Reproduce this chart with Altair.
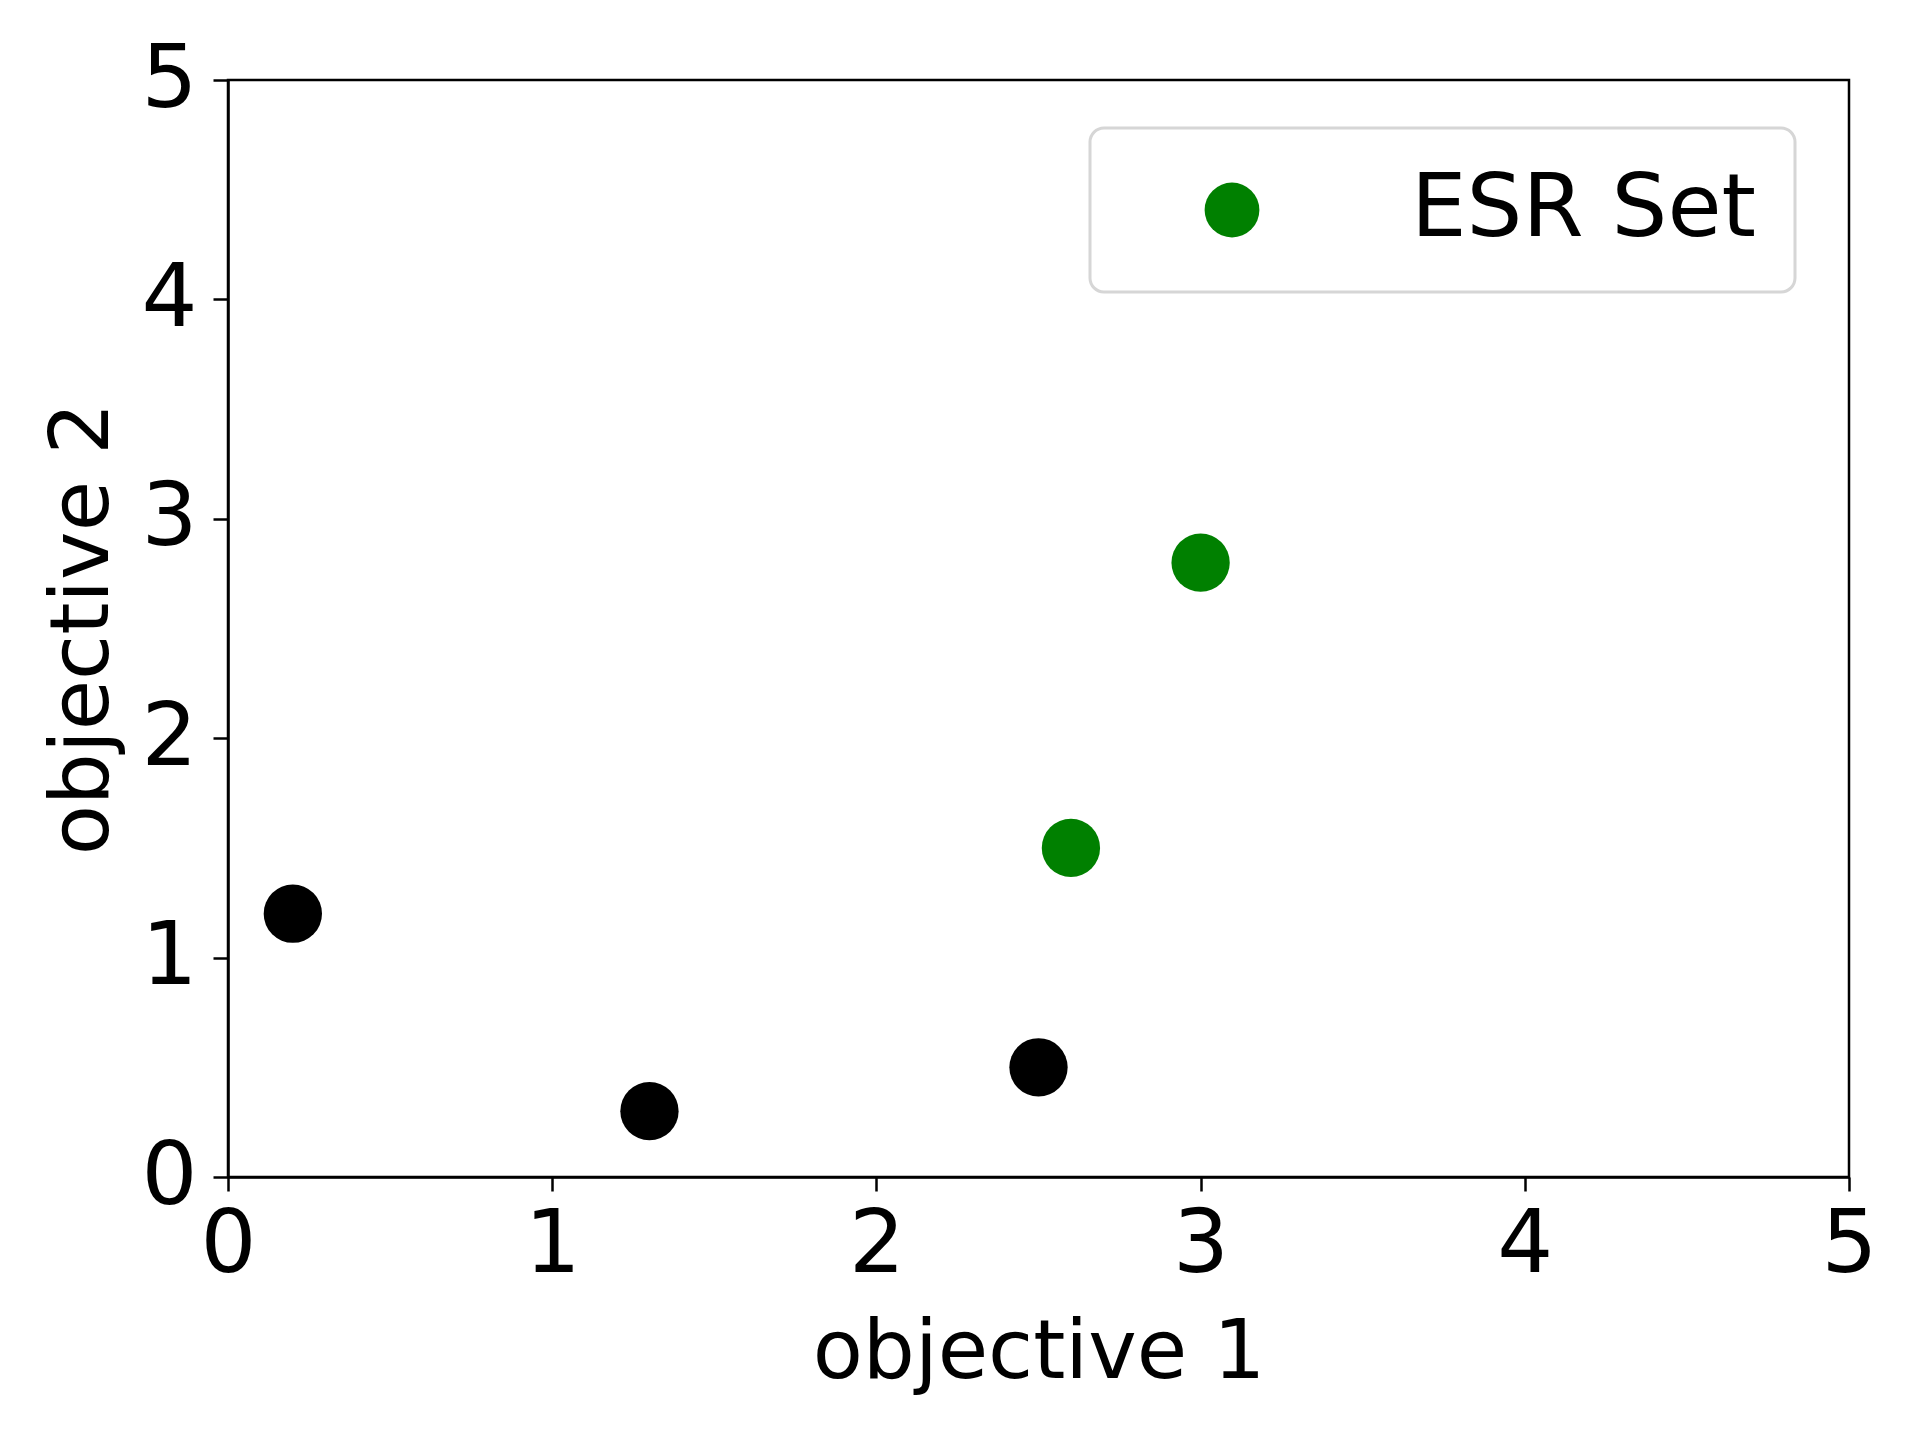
import altair as alt
import pandas as pd

# data
other_x = [0.2, 1.3, 2.5]
other_y = [1.2, 0.3, 0.5]
esr_x = [2.6, 3.0]
esr_y = [1.5, 2.8]
esr_label = "ESR Set"
tick_values = [0, 1, 2, 3, 4, 5]

df_other = pd.DataFrame({"x": other_x, "y": other_y})
df_esr = pd.DataFrame({"x": esr_x, "y": esr_y, "set": [esr_label] * len(esr_x)})

FONT = "DejaVu Sans"

x_axis = alt.Axis(values=tick_values, title="objective 1", grid=False,
                  labelFontSize=88, titleFontSize=82, tickSize=14, labelPadding=10,
                  titlePadding=23, labelFlush=False, format="d")
y_axis = alt.Axis(values=tick_values, title="objective 2", grid=False,
                  labelFontSize=88, titleFontSize=82, tickSize=15, labelPadding=16,
                  titlePadding=17, labelFlush=False, format="d")

x_enc = alt.X("x:Q", scale=alt.Scale(domain=[0, 5], nice=False), axis=x_axis)
y_enc = alt.Y("y:Q", scale=alt.Scale(domain=[0, 5], nice=False), axis=y_axis)

black_pts = alt.Chart(df_other).mark_circle(size=3400, opacity=1, color="black").encode(
    x=x_enc, y=y_enc
)

green_pts = alt.Chart(df_esr).mark_circle(size=3400, opacity=1).encode(
    x=x_enc, y=y_enc,
    color=alt.Color("set:N", scale=alt.Scale(domain=[esr_label], range=["#008000"]),
                    legend=alt.Legend(title=None, orient="none", legendX=862, legendY=48,
                                      symbolSize=3000, labelFontSize=88, padding=38,
                                      symbolOffset=60, labelOffset=135, labelLimit=0,
                                      strokeColor="#d6d6d6", fillColor="white",
                                      cornerRadius=14, symbolType="circle"))
)

chart = alt.layer(black_pts, green_pts).properties(
    width=1621, height=1097,
    autosize=alt.AutoSizeParams(type="none"),
    padding={"left": 220, "top": 72, "right": 50, "bottom": 240},
).configure_view(
    stroke="black", strokeWidth=2.5
).configure_axis(
    labelFont=FONT, titleFont=FONT, labelColor="black", titleColor="black",
    domainColor="black", tickColor="black", domainWidth=2.5, tickWidth=2.5,
    titleFontWeight="normal"
).configure_legend(
    labelFont=FONT, labelColor="black", strokeWidth=3
)

chart.save("out.html", embed_options={"renderer": "svg", "actions": False})
